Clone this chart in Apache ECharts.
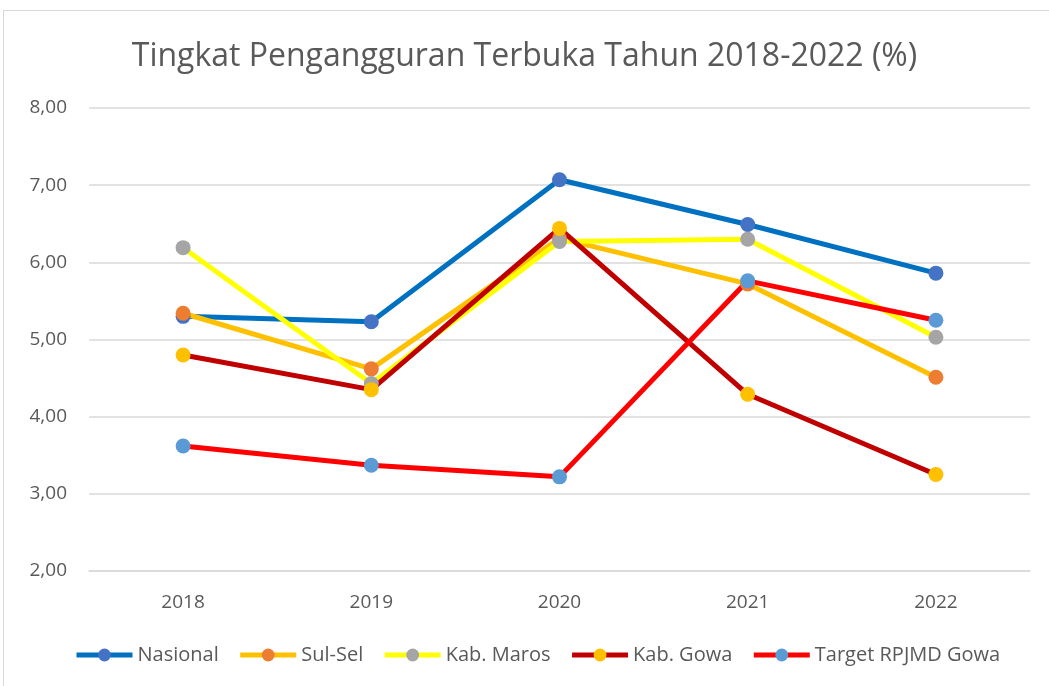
<!DOCTYPE html>
<html>
<head>
<meta charset="utf-8">
<script src="https://cdn.jsdelivr.net/npm/echarts@6/dist/echarts.min.js"></script>
<style>
  html, body { margin: 0; padding: 0; background: #fff; }
  #frame { position: absolute; left: 3px; top: 10px; width: 1060px; height: 700px; border: 1px solid #d9d9d9; box-sizing: border-box; }
  #chart { position: absolute; left: 0; top: 0; width: 1049px; height: 686px; }
</style>
</head>
<body>
<div id="frame"></div>
<div id="chart"></div>
<script>
// data
const years = ['2018', '2019', '2020', '2021', '2022'];
const nasional = [5.30, 5.23, 7.07, 6.49, 5.86];
const sulSel = [5.34, 4.62, 6.31, 5.72, 4.51];
const kabMaros = [6.19, 4.43, 6.27, 6.30, 5.03];
const kabGowa = [4.80, 4.35, 6.44, 4.29, 3.25];
const targetGowa = [3.62, 3.37, 3.22, 5.76, 5.25];

const font = '"Open Sans", sans-serif';

const makeSeries = (name, data, lineColor, markerColor) => ({
    name: name,
    type: 'line',
    data: data,
    symbol: 'circle',
    symbolSize: 15,
    lineStyle: { color: lineColor, width: 5 },
    itemStyle: { color: markerColor, borderWidth: 0 },
    emphasis: { disabled: true }
});

let myChart = echarts.init(document.getElementById('chart'));
let option = {
    animation: false,
    title: {
        text: 'Tingkat Pengangguran Terbuka Tahun 2018-2022 (%)',
        left: 'center',
        top: 36,
        textStyle: { color: '#595959', fontSize: 32, fontWeight: 'normal', fontFamily: font }
    },
    legend: {
        bottom: 16,
        left: 69,
        itemWidth: 56,
        itemHeight: 16,
        itemGap: 19,
        lineStyle: { width: 5 },
        textStyle: { color: '#595959', fontSize: 20, fontFamily: font }
    },
    grid: { left: 89, right: 19, top: 108, bottom: 115 },
    xAxis: {
        type: 'category',
        data: years,
        axisLine: { lineStyle: { color: '#d9d9d9', width: 1.5 } },
        axisTick: { show: false },
        axisLabel: { color: '#595959', fontSize: 19, fontFamily: font, margin: 22 }
    },
    yAxis: {
        type: 'value',
        min: 2,
        max: 8,
        interval: 1,
        axisLine: { show: false },
        axisTick: { show: false },
        splitLine: { lineStyle: { color: '#d9d9d9', width: 1.5 } },
        axisLabel: {
            color: '#595959', fontSize: 19, fontFamily: font, margin: 22,
            formatter: v => v.toFixed(2).replace('.', ',')
        }
    },
    series: [
        makeSeries('Nasional', nasional, '#0070C0', '#4472C4'),
        makeSeries('Sul-Sel', sulSel, '#FFC000', '#ED7D31'),
        makeSeries('Kab. Maros', kabMaros, '#FFFF00', '#A5A5A5'),
        makeSeries('Kab. Gowa', kabGowa, '#C00000', '#FFC000'),
        makeSeries('Target RPJMD Gowa', targetGowa, '#FF0000', '#5B9BD5')
    ]
};
myChart.setOption(option);
</script>
</body>
</html>
